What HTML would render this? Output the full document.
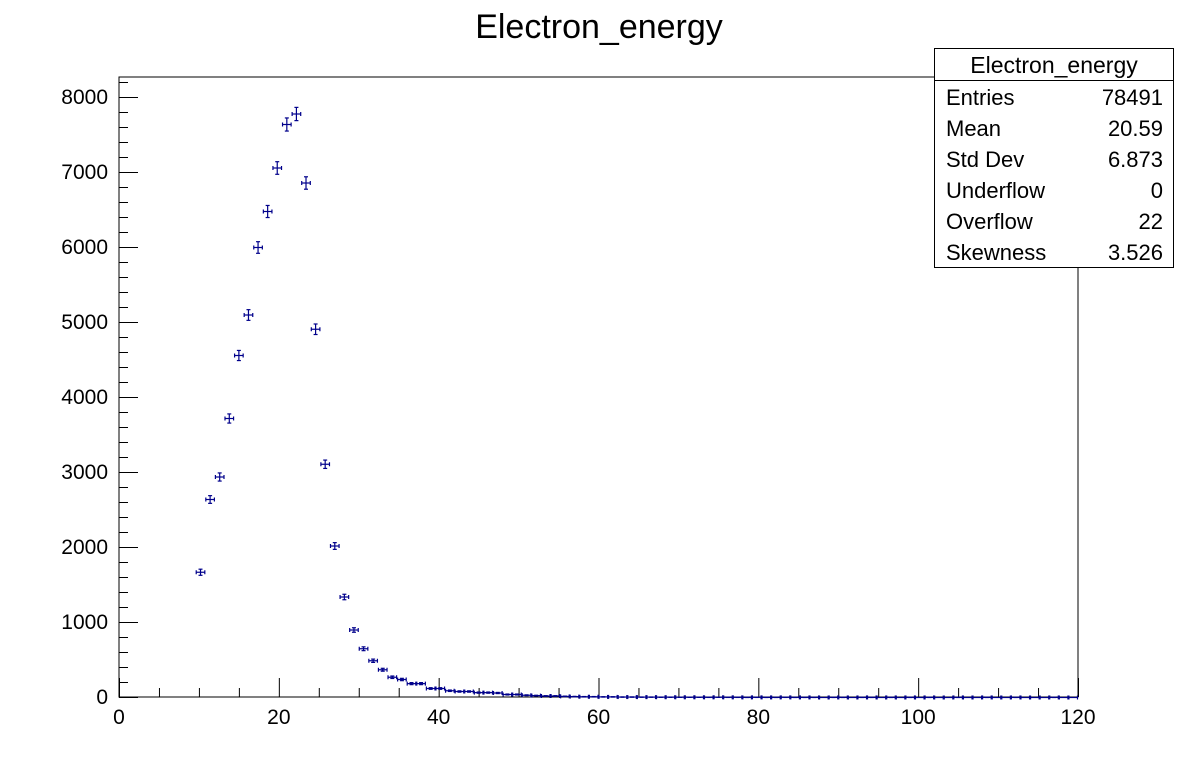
<!DOCTYPE html>
<html><head><meta charset="utf-8"><style>
body{margin:0;background:#fff}
svg{display:block;font-family:"Liberation Sans",sans-serif}
</style></head><body>
<svg id="c" width="1198" height="775">
<text x="599" y="38" font-size="34" text-anchor="middle">Electron_energy</text>
<rect x="119" y="77" width="959" height="620" fill="none" stroke="#000" stroke-width="1"/>
<g id="axes"></g>
<g id="marks"></g>
<g>
<rect x="934.5" y="48.5" width="239" height="219" fill="#fff" stroke="#000"/>
<line x1="934.5" y1="80.5" x2="1173.5" y2="80.5" stroke="#000"/>
<text x="1054" y="73" font-size="23" text-anchor="middle">Electron_energy</text>
<g font-size="22">
<text x="946" y="105">Entries</text><text x="1163" y="105" text-anchor="end">78491</text>
<text x="946" y="136">Mean</text><text x="1163" y="136" text-anchor="end">20.59</text>
<text x="946" y="167">Std Dev</text><text x="1163" y="167" text-anchor="end">6.873</text>
<text x="946" y="198">Underflow</text><text x="1163" y="198" text-anchor="end">0</text>
<text x="946" y="229">Overflow</text><text x="1163" y="229" text-anchor="end">22</text>
<text x="946" y="260">Skewness</text><text x="1163" y="260" text-anchor="end">3.526</text>
</g></g>
</svg>
<script>
const binStart = 8;
const binWidth = 1.2;
const counts = [1670,2640,2940,3720,4560,5100,6000,6480,7060,7640,7780,6860,4910,3110,2020,
1340,900,650,490,370,270,240,185,185,120,120,90,80,80,65,65,60,40,40,30,25,20,20,15,12,10,10,8,8,6,6,5,5,4,4,3,
3,3,2,3,2,2,1,2,1,1,2,1,1,1,0,1,1,0,1,1,0,1,0,1,0,1,0,0,1,0,0,1,0,0,1,0,0,0,1,0,0];
const xTicks = [0,20,40,60,80,100,120];
const yTicks = [0,1000,2000,3000,4000,5000,6000,7000,8000];
const NS="http://www.w3.org/2000/svg";
const X0=119,X1=1078,Y0=697,Y1=77;
const xs=v=>X0+(v/120)*(X1-X0);
const ys=v=>Y0-v*0.075;
function mk(t,a,p){const e=document.createElementNS(NS,t);for(const k in a)e.setAttribute(k,a[k]);p.appendChild(e);return e;}
const ax=document.getElementById('axes');
for(let v=0;v<=120;v+=5){const x=xs(v)+0.5;const l=v%20===0?19:9;
const t=mk('line',{x1:x,y1:Y0,x2:x,y2:Y0-l,stroke:'#000'},ax);

}
xTicks.forEach(v=>{const t=mk('text',{x:xs(v),y:724,'font-size':21,'text-anchor':'middle'},ax);t.textContent=v;

});
for(let v=0;v<=8200;v+=200){const y=ys(v)+0.5;const l=v%1000===0?19:9;
const t=mk('line',{x1:X0,y1:y,x2:X0+l,y2:y,stroke:'#000'},ax);

}
yTicks.forEach(v=>{const t=mk('text',{x:108,y:ys(v)+7,'font-size':21,'text-anchor':'end'},ax);t.textContent=v;

});
const mg=document.getElementById('marks');
counts.forEach((c,i)=>{const b=binStart+i;const lo=b*binWidth,hi=(b+1)*binWidth,cx=xs((lo+hi)/2),y=ys(c)+0.5;
const g=mk('g',{stroke:'#00008b','stroke-width':1.2,fill:'none'},mg);


const xl=xs(lo)+0.5,xr=xs(hi)-0.5,e=Math.sqrt(c)*0.075;
mk('line',{x1:xl,y1:y,x2:xr,y2:y},g);
mk('line',{x1:xl,y1:y-2,x2:xl,y2:y+2},g);
mk('line',{x1:xr,y1:y-2,x2:xr,y2:y+2},g);
if(c>0){mk('line',{x1:cx,y1:y-e,x2:cx,y2:y+e},g);
mk('line',{x1:cx-2,y1:y-e,x2:cx+2,y2:y-e},g);
mk('line',{x1:cx-2,y1:y+e,x2:cx+2,y2:y+e},g);}
});
</script>
</body></html>
